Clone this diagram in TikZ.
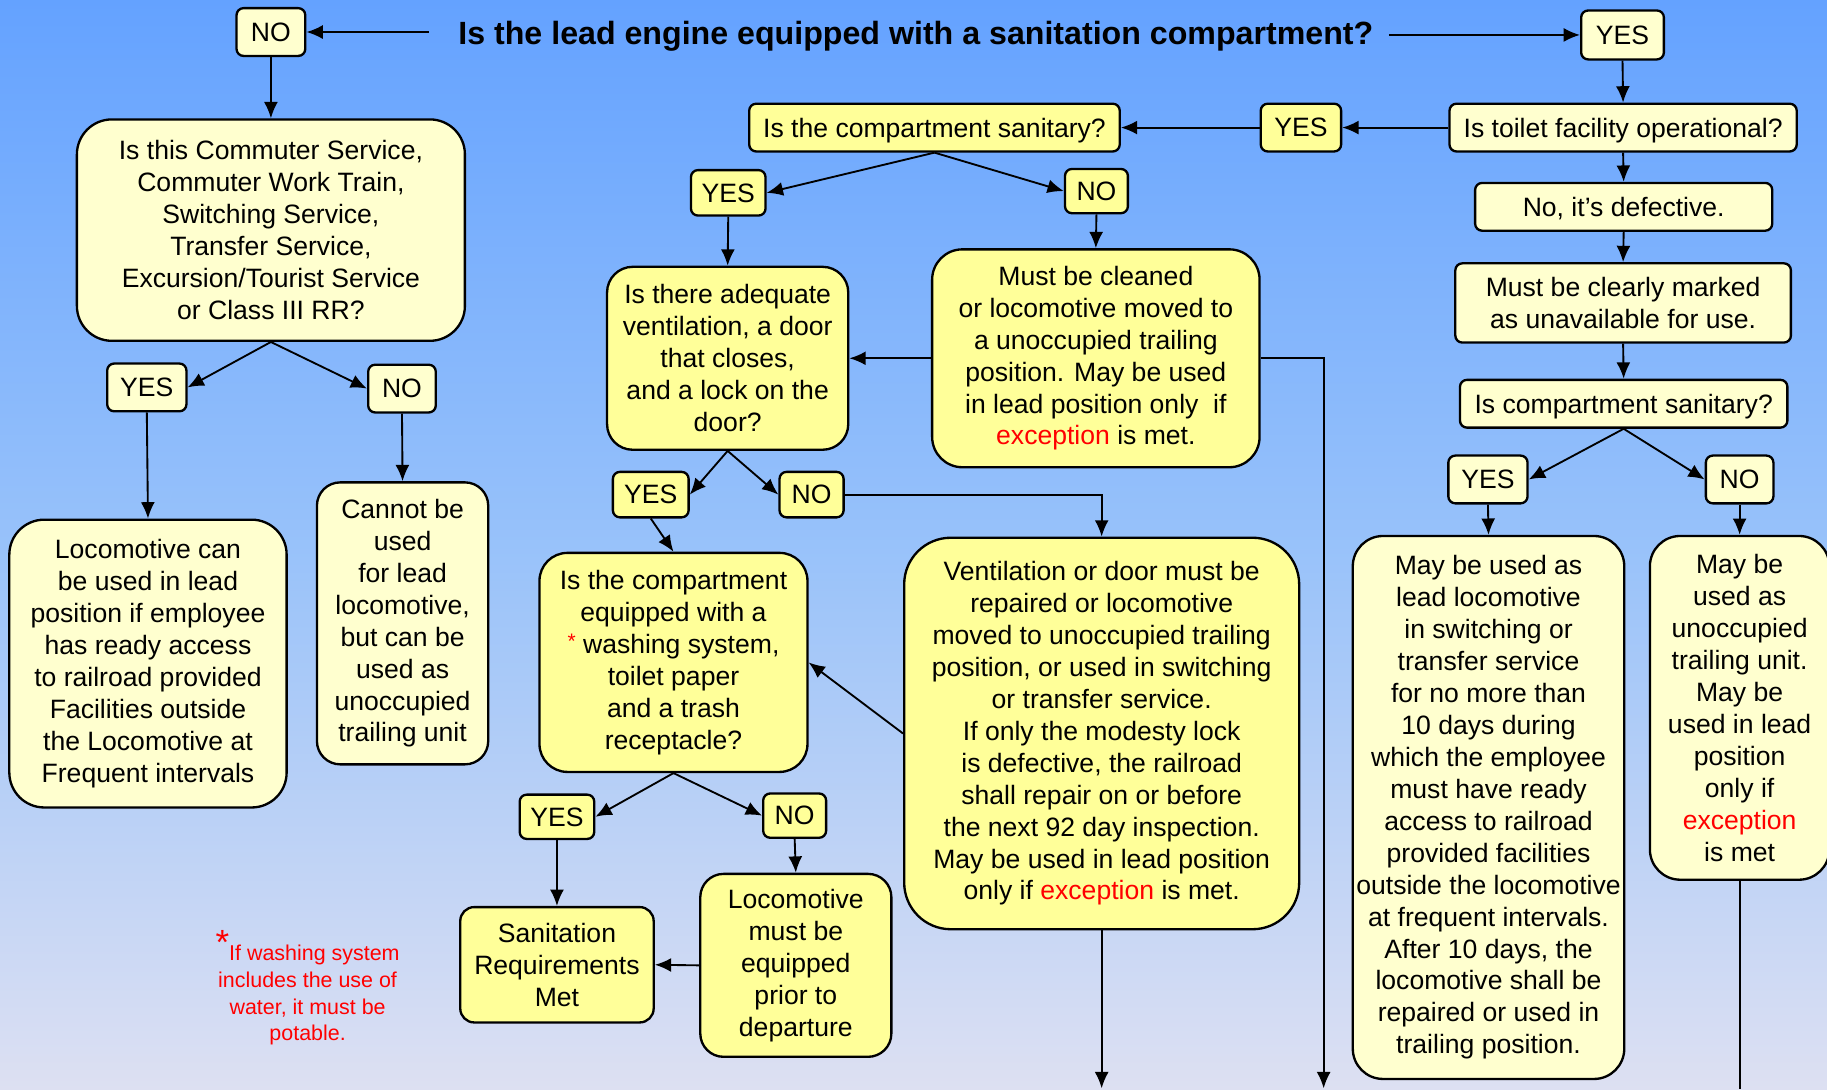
\documentclass[tikz,border=0pt]{standalone}
\usepackage{fontspec}
\setmainfont{Liberation Sans}
\usetikzlibrary{arrows.meta}
\definecolor{bgtop}{HTML}{64A2FF}
\definecolor{bgmid}{HTML}{98C2FA}
\definecolor{bgbot}{HTML}{DDE0F2}
\definecolor{cream}{HTML}{FFFFCF}
\definecolor{brite}{HTML}{FFFF99}
\definecolor{exc}{HTML}{FF0000}
\tikzset{
  box/.style={draw=black, line width=1pt, align=center, inner sep=0pt,
    font=\fontsize{11.4}{13.7}\selectfont},
  sbox/.style={box, rounded corners=3pt, text depth=0pt},
  lbox/.style={box, rounded corners=13pt},
  creambox/.style={fill=cream},
  britebox/.style={fill=brite},
  conn/.style={draw=black, line width=0.8pt, -{Latex[length=7pt,width=6pt]}},
  plain/.style={draw=black, line width=0.8pt},
}
\newcommand{\ex}{\textcolor{exc}{exception}}
\begin{document}
\begin{tikzpicture}[x=0.5pt,y=-0.5pt]
\useasboundingbox (0,0) rectangle (1568,935);
\shade[top color=bgtop, bottom color=bgbot, middle color=bgmid] (0,0) rectangle (1568,935);

% title
\node[inner sep=0pt, font=\fontsize{13.8}{16}\selectfont\bfseries] (title) at (786,31) {Is the lead engine equipped with a sanitation compartment?};
\coordinate (tl) at (368,27.5);
\coordinate (tr) at (1192,30);

% top NO / YES
\node[sbox, creambox, minimum width=29.5pt, minimum height=20.5pt] (ntop) at (232.5,27.5) {NO};
\node[sbox, creambox, minimum width=35.5pt, minimum height=21pt] (ytop) at (1392.5,30) {YES};

% right column
\node[sbox, creambox, minimum width=149pt, minimum height=20.5pt] (toilet) at (1393,109.5) {Is toilet facility operational?};
\node[sbox, britebox, minimum width=34.5pt, minimum height=20.5pt] (y1) at (1116.5,109.5) {YES};
\node[sbox, britebox, minimum width=159pt, minimum height=20.5pt] (csan) at (802,109.5) {Is the compartment sanitary?};
\node[sbox, creambox, minimum width=127.5pt, minimum height=20.5pt] (defect) at (1393.5,177.5) {No, it’s defective.};
\node[sbox, creambox, minimum width=144pt, minimum height=34pt] (marked) at (1393,260) {Must be clearly marked\\as unavailable for use.};
\node[sbox, creambox, minimum width=140.5pt, minimum height=20.5pt] (csan2) at (1393.5,346.5) {Is compartment sanitary?};
\node[sbox, creambox, minimum width=34pt, minimum height=20.5pt] (y6) at (1277,411.5) {YES};
\node[sbox, creambox, minimum width=29pt, minimum height=20.5pt] (n6) at (1493,411.5) {NO};
\node[lbox, creambox, minimum width=116.5pt, minimum height=233pt] (maylead) at (1277.5,693) {May be used as\\lead locomotive\\in switching or\\transfer service\\for no more than\\10 days during\\which the employee\\must have ready\\access to railroad\\provided facilities\\outside the locomotive\\at frequent intervals.\\After 10 days, the\\locomotive shall be\\repaired or used in\\trailing position.};
\node[lbox, creambox, minimum width=77pt, minimum height=147.5pt] (mayunocc) at (1493,607.5) {May be\\used as\\unoccupied\\trailing unit.\\May be\\used in lead\\position\\only if\\\ex\\is met};

% middle column
\node[sbox, britebox, minimum width=32pt, minimum height=19.5pt] (y2) at (625,165.5) {YES};
\node[sbox, britebox, minimum width=27pt, minimum height=19pt] (n2) at (941,164) {NO};
\node[box, britebox, rounded corners=11pt, minimum width=103.5pt, minimum height=78.5pt] (adeq) at (624.5,307.5) {Is there adequate\\ventilation, a door\\that closes,\\and a lock on the\\door?};
\node[box, britebox, rounded corners=13pt, minimum width=140.5pt, minimum height=93.5pt] (clean) at (940.5,307.5) {Must be cleaned\\or locomotive moved to\\a unoccupied trailing\\position. May be used\\in lead position only\ \ if\\\ex{} is met.};
\node[sbox, britebox, minimum width=32.5pt, minimum height=19.5pt] (y3) at (558.5,424.5) {YES};
\node[sbox, britebox, minimum width=27.5pt, minimum height=19.5pt] (n3) at (696.5,424.5) {NO};
\node[box, britebox, rounded corners=12pt, minimum width=115pt, minimum height=94pt] (equip) at (578,568.5) {Is the compartment\\equipped with a\\\textcolor{exc}{\raisebox{0.35ex}{\fontsize{9}{9}\selectfont *}} washing system,\\toilet paper\\and a trash\\receptacle?};
\node[box, britebox, rounded corners=20pt, minimum width=169.5pt, minimum height=168pt] (vent) at (945.5,629.5) {Ventilation or door must be\\repaired or locomotive\\moved to unoccupied trailing\\position, or used in switching\\or transfer service.\\If only the modesty lock\\is defective, the railroad\\shall repair on or before\\the next 92 day inspection.\\May be used in lead position\\only if \ex{} is met.};
\node[sbox, britebox, minimum width=32pt, minimum height=19pt] (y4) at (478,701) {YES};
\node[sbox, britebox, minimum width=27pt, minimum height=19pt] (n4) at (682,700) {NO};
\node[box, britebox, rounded corners=6pt, minimum width=83pt, minimum height=49.5pt] (sanreq) at (478,828) {Sanitation\\Requirements\\Met};
\node[box, britebox, rounded corners=10pt, minimum width=82pt, minimum height=78.5pt] (locmust) at (683,828.5) {Locomotive\\must be\\equipped\\prior to\\departure};

% left column
\node[box, creambox, rounded corners=15pt, minimum width=166.5pt, minimum height=95pt] (commuter) at (232.5,197.5) {Is this Commuter Service,\\Commuter Work Train,\\Switching Service,\\Transfer Service,\\Excursion/Tourist Service\\or Class III RR?};
\node[sbox, creambox, minimum width=34pt, minimum height=20.5pt] (y5) at (126,332.5) {YES};
\node[sbox, creambox, minimum width=29pt, minimum height=20.5pt] (n5) at (345,333.5) {NO};
\node[box, creambox, rounded corners=15pt, minimum width=119pt, minimum height=123.5pt] (loccan) at (127,569.5) {Locomotive can\\be used in lead\\position if employee\\has ready access\\to railroad provided\\Facilities outside\\the Locomotive at\\Frequent intervals};
\node[box, creambox, rounded corners=10pt, minimum width=73.5pt, minimum height=121pt] (cannot) at (345.5,535) {Cannot be\\used\\for lead\\locomotive,\\but can be\\used as\\unoccupied\\trailing unit};

% footnote
\node[align=center, inner sep=0pt, text=exc, font=\fontsize{9.2}{11.5}\selectfont] (foot) at (264,854) {\raisebox{0.55ex}[0pt][0pt]{\fontsize{15}{15}\selectfont *}If washing system\\includes the use of\\water, it must be\\potable.};

% free ends
\coordinate (e1) at (1136,934);
\coordinate (e2) at (945.5,934);
\coordinate (e3) at (1493,935);

% connectors
\draw[conn] (tl) -- (ntop.east);
\draw[conn] (tr) -- (ytop.west);
\draw[conn] (ytop.south) -- (toilet.north);
\draw[conn] (toilet.west) -- (y1.east);
\draw[conn] (y1.west) -- (csan.east);
\draw[conn] (toilet.south) -- (defect.north);
\draw[conn] (defect.south) -- (marked.north);
\draw[conn] (marked.south) -- (csan2.north);
\draw[conn] (csan2.south) -- (y6.east);
\draw[conn] (csan2.south) -- (n6.west);
\draw[conn] (y6.south) -- (maylead.north);
\draw[conn] (n6.south) -- (mayunocc.north);
\draw[plain] (mayunocc.south) -- (e3);

\draw[conn] (csan.south) -- (y2.east);
\draw[conn] (csan.south) -- (n2.west);
\draw[conn] (y2.south) -- (adeq.north);
\draw[conn] (n2.south) -- (clean.north);
\draw[conn] (clean.west) -- (adeq.east);
\draw[conn] (clean.east) -| (e1);
\draw[conn] (adeq.south) -- (y3.east);
\draw[conn] (adeq.south) -- (n3.west);
\draw[conn] (n3.east) -| (vent.north);
\draw[conn] (y3.south) -- (equip.north);
\draw[conn] (vent.west) -- (equip.east);
\draw[conn] (vent.south) -- (e2);
\draw[conn] (equip.south) -- (y4.east);
\draw[conn] (equip.south) -- (n4.west);
\draw[conn] (y4.south) -- (sanreq.north);
\draw[conn] (n4.south) -- (locmust.north);
\draw[conn] (locmust.west) -- (sanreq.east);

\draw[conn] (ntop.south) -- (commuter.north);
\draw[conn] (commuter.south) -- (y5.east);
\draw[conn] (commuter.south) -- (n5.west);
\draw[conn] (y5.south) -- (loccan.north);
\draw[conn] (n5.south) -- (cannot.north);
\end{tikzpicture}
\end{document}
